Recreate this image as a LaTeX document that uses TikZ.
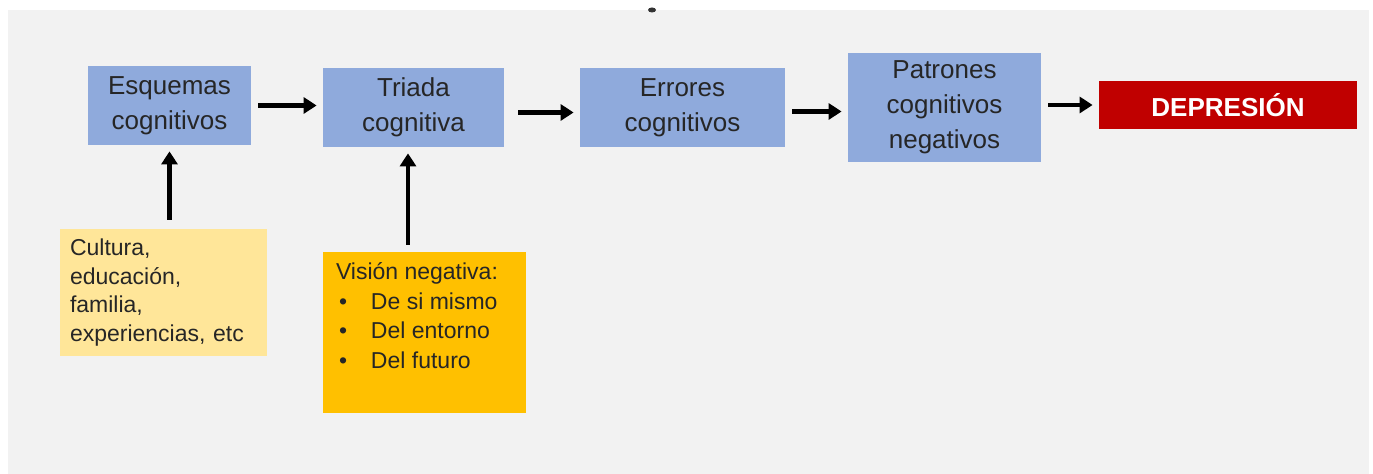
\documentclass[tikz,border=0pt]{standalone}
\usepackage{fontspec}
\setmainfont{Liberation Sans}
\usetikzlibrary{arrows.meta}

\definecolor{bgray}{HTML}{F2F2F2}
\definecolor{boxblue}{HTML}{8FAADC}
\definecolor{paleyellow}{HTML}{FFE699}
\definecolor{goldbox}{HTML}{FFC000}
\definecolor{deepred}{HTML}{C00000}

\begin{document}
\begin{tikzpicture}[x=0.5pt, y=-0.5pt,
        stage/.style={fill=boxblue, text=black!85, align=center, inner sep=0pt,
            font=\fontsize{13}{17.5}\selectfont},
        source/.style={text=black!85, inner sep=0pt,
            font=\fontsize{11.5}{14.2}\selectfont},
        flow/.style={line width=2.4pt, -{Triangle[length=6.5pt, width=8pt]},
            shorten <=3.5pt, shorten >=3pt}]
    \useasboundingbox (0, 0) rectangle (1373, 474);
    \fill[bgray] (8, 10) rectangle (1369, 474);
    \fill[black!80] (652, 10) ellipse (4 and 2.5);
    % main chain
    \node[stage, minimum width=81.5pt, minimum height=39.5pt] (esquemas)
        at (169.5, 105.5) {Esquemas\\cognitivos};
    \node[stage, minimum width=90.5pt, minimum height=39.5pt] (triada)
        at (413.5, 107.5) {Triada\\cognitiva};
    \node[stage, minimum width=102.5pt, minimum height=39.5pt] (errores)
        at (682.5, 107.5) {Errores\\cognitivos};
    \node[stage, minimum width=96.5pt, minimum height=54.5pt] (patrones)
        at (944.5, 107.5) {Patrones\\cognitivos\\negativos};
    \node[fill=deepred, text=white, inner sep=0pt, minimum width=129pt,
        minimum height=24pt, font=\fontsize{13}{15}\selectfont\bfseries] (depresion)
        at (1228, 105) {DEPRESIÓN};
    % inputs
    \node[source, fill=paleyellow, minimum width=103.5pt, minimum height=63.5pt,
        text width=93.5pt, align=left] (cultura)
        at (163.5, 292.5) {Cultura,\\educación,\\familia,\\experiencias, etc};
    \node[source, fill=goldbox, minimum width=101.5pt, minimum height=80.5pt,
        font=\fontsize{11.5}{14.8}\selectfont] (vision)
        at (424.5, 332.5) {\begin{minipage}[t][70pt][t]{88.5pt}
            Visión negativa:\\
            \hspace*{1.5pt}\makebox[16pt][l]{\textbullet}De si mismo\\
            \hspace*{1.5pt}\makebox[16pt][l]{\textbullet}Del entorno\\
            \hspace*{1.5pt}\makebox[16pt][l]{\textbullet}Del futuro
        \end{minipage}};
    % arrows
    \draw[flow] (esquemas.east) -- (esquemas.east -| triada.west);
    \draw[flow, shorten <=7pt] ([yshift=-2.5pt]triada.east) -- ([yshift=-2.5pt]triada.east -| errores.west);
    \draw[flow] ([yshift=-2pt]errores.east) -- ([yshift=-2pt]errores.east -| patrones.west);
    \draw[flow] (depresion.west -| patrones.east) -- (depresion.west);
    \draw[flow, shorten <=4.5pt] (esquemas.south |- cultura.north) -- (esquemas.south);
    \draw[flow] ([xshift=-2.75pt]triada.south |- vision.north) -- ([xshift=-2.75pt]triada.south);
\end{tikzpicture}
\end{document}
